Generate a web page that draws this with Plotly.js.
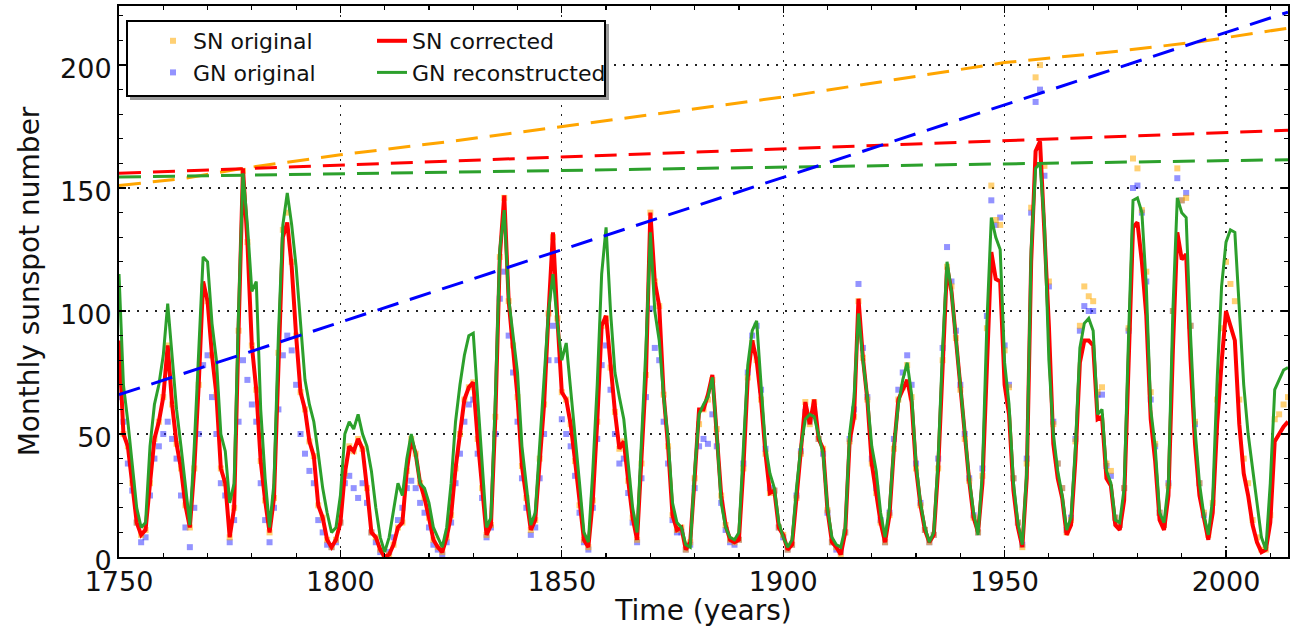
<!DOCTYPE html>
<html>
<head>
<meta charset="utf-8">
<script src="https://cdn.plot.ly/plotly-3.0.1.min.js"></script>
<style>html,body{margin:0;padding:0;background:#fff;}#chart{width:1293px;height:627px;}</style>
</head>
<body>
<div id="chart"></div>
<script>
// Time axis (years)
const years = [
1750,1751,1752,1753,1754,1755,1756,1757,1758,1759,
1760,1761,1762,1763,1764,1765,1766,1767,1768,1769,
1770,1771,1772,1773,1774,1775,1776,1777,1778,1779,
1780,1781,1782,1783,1784,1785,1786,1787,1788,1789,
1790,1791,1792,1793,1794,1795,1796,1797,1798,1799,
1800,1801,1802,1803,1804,1805,1806,1807,1808,1809,
1810,1811,1812,1813,1814,1815,1816,1817,1818,1819,
1820,1821,1822,1823,1824,1825,1826,1827,1828,1829,
1830,1831,1832,1833,1834,1835,1836,1837,1838,1839,
1840,1841,1842,1843,1844,1845,1846,1847,1848,1849,
1850,1851,1852,1853,1854,1855,1856,1857,1858,1859,
1860,1861,1862,1863,1864,1865,1866,1867,1868,1869,
1870,1871,1872,1873,1874,1875,1876,1877,1878,1879,
1880,1881,1882,1883,1884,1885,1886,1887,1888,1889,
1890,1891,1892,1893,1894,1895,1896,1897,1898,1899,
1900,1901,1902,1903,1904,1905,1906,1907,1908,1909,
1910,1911,1912,1913,1914,1915,1916,1917,1918,1919,
1920,1921,1922,1923,1924,1925,1926,1927,1928,1929,
1930,1931,1932,1933,1934,1935,1936,1937,1938,1939,
1940,1941,1942,1943,1944,1945,1946,1947,1948,1949,
1950,1951,1952,1953,1954,1955,1956,1957,1958,1959,
1960,1961,1962,1963,1964,1965,1966,1967,1968,1969,
1970,1971,1972,1973,1974,1975,1976,1977,1978,1979,
1980,1981,1982,1983,1984,1985,1986,1987,1988,1989,
1990,1991,1992,1993,1994,1995,1996,1997,1998,1999,
2000,2001,2002,2003,2004,2005,2006,2007,2008,2009,
2010,2011,2012,2013,2014];

// SN original (dots)
const snOriginal = [
85,50,45,30,14,9,11,30,48,55,
65,86,62,46,36,21,12,36,70,110,
104,82,66,36,30,8,20,92,157,128,
86,68,39,23,10,24,83,133,140,120,
90,67,60,47,41,21,16,7,4,7,
14,34,45,43,48,44,28,10,8,3,
0,1,5,12,14,35,48,42,30,24,
16,7,4,2,8,17,36,50,64,69,
71,48,28,9,13,57,122,146,104,86,
65,37,24,11,15,40,62,99,130,97,
67,64,54,39,21,7,4,23,55,94,
97,77,59,44,47,31,16,7,38,74,
140,112,102,66,45,17,11,12,3,6,
32,54,60,64,72,52,25,13,7,6,
7,36,73,87,80,64,42,26,27,12,
9,3,5,24,42,63,54,63,48,44,
19,6,4,1,10,47,57,104,81,64,
38,26,14,6,17,44,64,69,78,65,
36,21,11,6,9,36,80,118,110,89,
68,48,31,16,10,33,93,151,137,135,
84,69,32,14,4,38,142,195,200,159,
112,54,38,28,10,15,47,94,110,106,
104,67,69,38,35,16,13,28,93,162,
158,141,116,67,46,18,13,29,100,158,
145,146,94,55,30,18,9,22,64,93,
120,111,104,64,40,30,15,8,3,3,
17,56,58,62,65];

// GN original (dots), ends 1995
const gnOriginal = [
65,55,38,27,14,6,8,25,40,45,
50,55,48,40,25,12,4,20,50,78,
82,65,50,30,25,6,15,55,80,72,
62,55,30,15,6,20,60,82,90,84,
70,50,42,35,30,15,10,5,4,6,
14,30,33,28,24,30,22,10,6,2,
0,2,8,15,20,28,31,28,22,18,
12,5,3,1,6,14,30,42,55,62,
64,42,24,8,12,50,105,116,90,75,
55,32,20,9,12,32,50,80,94,80,
56,50,45,33,18,6,3,20,48,78,
86,68,50,38,40,26,14,6,32,65,
101,85,80,55,38,15,10,10,3,5,
28,45,48,46,58,45,22,11,6,5,
7,38,75,90,94,68,44,28,27,12,
8,3,5,25,43,59,55,58,48,42,
18,6,3,2,10,48,60,111,85,65,
40,28,15,6,18,48,68,75,82,70,
38,22,11,6,9,40,85,126,112,92,
70,50,32,17,10,36,98,145,135,138,
86,70,32,14,5,40,140,185,190,155,
110,55,38,28,11,16,48,92,102,100,
100,66,66,37,33,16,13,28,92,150,
151,140,112,64,45,18,13,30,100,154,
145,148,94,54,30,17];

// SN corrected (red line)
const snCorrected = [
88,50,45,30,14,9,11,30,48,55,
65,86,62,46,36,21,12,36,70,112,
104,82,66,36,30,8,20,92,158,128,
86,68,39,23,10,24,83,130,136,118,
90,67,60,47,41,21,16,7,4,7,
14,34,45,43,48,44,28,10,8,3,
0,1,5,12,14,35,48,42,30,24,
16,7,4,2,8,17,36,50,64,69,
71,48,28,9,13,57,122,147,104,86,
65,37,24,11,15,40,62,99,132,97,
67,64,54,39,21,7,4,23,55,94,
98,77,59,44,47,31,16,7,38,74,
140,112,102,66,45,17,11,12,3,6,
32,60,60,66,74,52,25,13,7,6,
7,36,73,88,80,64,42,26,27,12,
9,3,5,24,42,63,54,64,48,44,
19,6,4,1,10,47,57,105,81,64,
38,26,14,6,17,44,64,68,72,63,
36,21,11,6,9,36,80,118,108,88,
68,48,31,16,10,30,82,124,113,112,
70,58,27,12,4,32,120,165,169,134,
94,46,32,24,9,13,40,79,88,88,
86,56,57,32,29,13,11,23,78,134,
136,120,98,56,39,15,11,25,84,132,
121,123,80,46,25,15,7,18,54,79,
100,94,88,54,34,25,13,6,2,3,
14,47,50,53,55];

// GN reconstructed (green line)
const gnReconstructed = [
115,70,55,38,20,12,14,45,62,70,
82,103,80,60,45,28,13,45,85,122,
120,95,80,50,43,22,30,100,156,135,
108,112,60,32,12,30,90,135,148,135,
118,95,72,62,55,42,28,18,10,12,
25,50,55,52,58,50,45,35,20,8,
2,8,20,30,25,40,50,42,30,28,
22,12,8,4,12,30,55,70,82,90,
91,65,35,12,16,65,125,141,105,90,
75,45,30,13,18,45,70,100,115,95,
80,87,68,50,30,10,6,35,70,115,
134,100,75,65,56,38,20,10,45,85,
132,100,88,65,48,22,14,12,5,4,
35,58,62,65,73,50,22,12,8,7,
10,45,78,92,96,70,45,34,28,14,
8,4,7,28,45,56,58,57,50,42,
20,8,5,4,12,50,65,99,80,65,
45,35,18,8,20,45,62,72,79,66,
38,22,12,6,10,40,85,120,108,90,
70,51,32,18,9,35,95,138,130,125,
79,62,30,14,5,35,125,158,160,135,
80,50,35,25,11,16,45,85,95,97,
92,58,60,35,30,15,14,28,90,145,
146,140,110,60,45,18,14,30,100,146,
140,138,90,52,30,17,9,24,72,110,
128,133,132,100,70,50,35,22,8,3,
30,68,72,76,77];

// Dashed trend lines
const trendYears = [1750, 1765, 1778, 1800, 1825, 1850, 1875, 1900, 1925, 1950, 1975, 1994, 2014];
const snOriginalTrend = [151, 154, 158, 163.5, 169, 175, 181, 187, 194, 201, 205.5, 209.5, 215];
const lineYears = [1750, 2014];
const gnOriginalTrend = [66, 221.5];
const snCorrectedTrend = [156, 173.5];
const gnReconstructedTrend = [154.5, 161.5];

const cOrange = '#ffa500', cBlue = '#0000ff', cRed = '#ff0000', cGreen = '#2ca02c';

const traces = [
  {x: years.slice(0, gnOriginal.length), y: gnOriginal, type:'scatter', mode:'markers', name:'GN original',
   marker:{color:'rgba(40,40,255,0.5)', size:6, symbol:'square'}, legend:'legend', legendrank:2},
  {x: years, y: snOriginal, type:'scatter', mode:'markers', name:'SN original',
   marker:{color:'rgba(255,170,0,0.55)', size:6, symbol:'square'}, legend:'legend', legendrank:1},
  {x: years, y: snCorrected, type:'scatter', mode:'lines', name:'SN corrected',
   line:{color:cRed, width:4}, legend:'legend2', legendrank:1},
  {x: years, y: gnReconstructed, type:'scatter', mode:'lines', name:'GN reconstructed',
   line:{color:cGreen, width:3}, legend:'legend2', legendrank:2},
  {x: trendYears, y: snOriginalTrend, type:'scatter', mode:'lines', showlegend:false,
   line:{color:cOrange, width:3, dash:'22px,12px'}},
  {x: lineYears, y: snCorrectedTrend, type:'scatter', mode:'lines', showlegend:false,
   line:{color:cRed, width:3, dash:'22px,12px'}},
  {x: lineYears, y: gnReconstructedTrend, type:'scatter', mode:'lines', showlegend:false,
   line:{color:cGreen, width:3, dash:'22px,12px'}},
  {x: lineYears, y: gnOriginalTrend, type:'scatter', mode:'lines', showlegend:false,
   line:{color:cBlue, width:3, dash:'22px,12px'}}
];

const W = 1293, H = 627, L = 119, R = 5, T = 6, B = 70;
const pw = W - L - R, ph = H - T - B;
const px = v => (v - L) / pw;
const py = v => (H - B - v) / ph;

const axisCommon = {
  ticks:'inside', ticklen:7, tickwidth:1.2, tickcolor:'#000',
  showline:true, linecolor:'#000', linewidth:2, mirror:'allticks',
  showgrid:true, gridcolor:'#222', gridwidth:1.2, griddash:'2px,7px',
  zeroline:false, tickfont:{size:27, color:'#111', family:'DejaVu Sans'}
};

const layout = {
  width:W, height:H,
  margin:{l:L, r:R, t:T, b:B},
  paper_bgcolor:'#fff', plot_bgcolor:'#fff',
  font:{family:'DejaVu Sans', color:'#111'},
  xaxis: Object.assign({}, axisCommon, {
    range:[1750, 2014], tick0:1750, dtick:50,
    minor:{tick0:1750, dtick:10, ticks:'inside', ticklen:4, tickcolor:'#000', showgrid:false},
    title:{text:'Time (years)', font:{size:28, color:'#111'}, standoff:8}
  }),
  yaxis: Object.assign({}, axisCommon, {
    range:[0, 224], tick0:0, dtick:50, ticklabelshift:4,
    minor:{tick0:0, dtick:10, ticks:'inside', ticklen:4, tickcolor:'#000', showgrid:false},
    title:{text:'Monthly sunspot number', font:{size:28, color:'#111'}, standoff:12}
  }),
  showlegend:true,
  legend:{x:px(153), xanchor:'left', y:py(20), yanchor:'top', bgcolor:'rgba(0,0,0,0)',
          borderwidth:0, font:{size:22, color:'#111'}, itemwidth:30, traceorder:'normal'},
  legend2:{x:px(372), xanchor:'left', y:py(20), yanchor:'top', bgcolor:'rgba(0,0,0,0)',
          borderwidth:0, font:{size:22, color:'#111'}, itemwidth:30, traceorder:'normal'},
  shapes:[
    {type:'rect', xref:'paper', yref:'paper', layer:'above',
     x0:px(130), x1:px(609), y0:py(100), y1:py(24), fillcolor:'#9a9a9a', line:{width:0}},
    {type:'rect', xref:'paper', yref:'paper', layer:'above',
     x0:px(127), x1:px(605), y0:py(96), y1:py(21), fillcolor:'#fff', line:{color:'#000', width:2}}
  ]
};

Plotly.newPlot('chart', traces, layout, {displayModeBar:false, staticPlot:true});
</script>
</body>
</html>
